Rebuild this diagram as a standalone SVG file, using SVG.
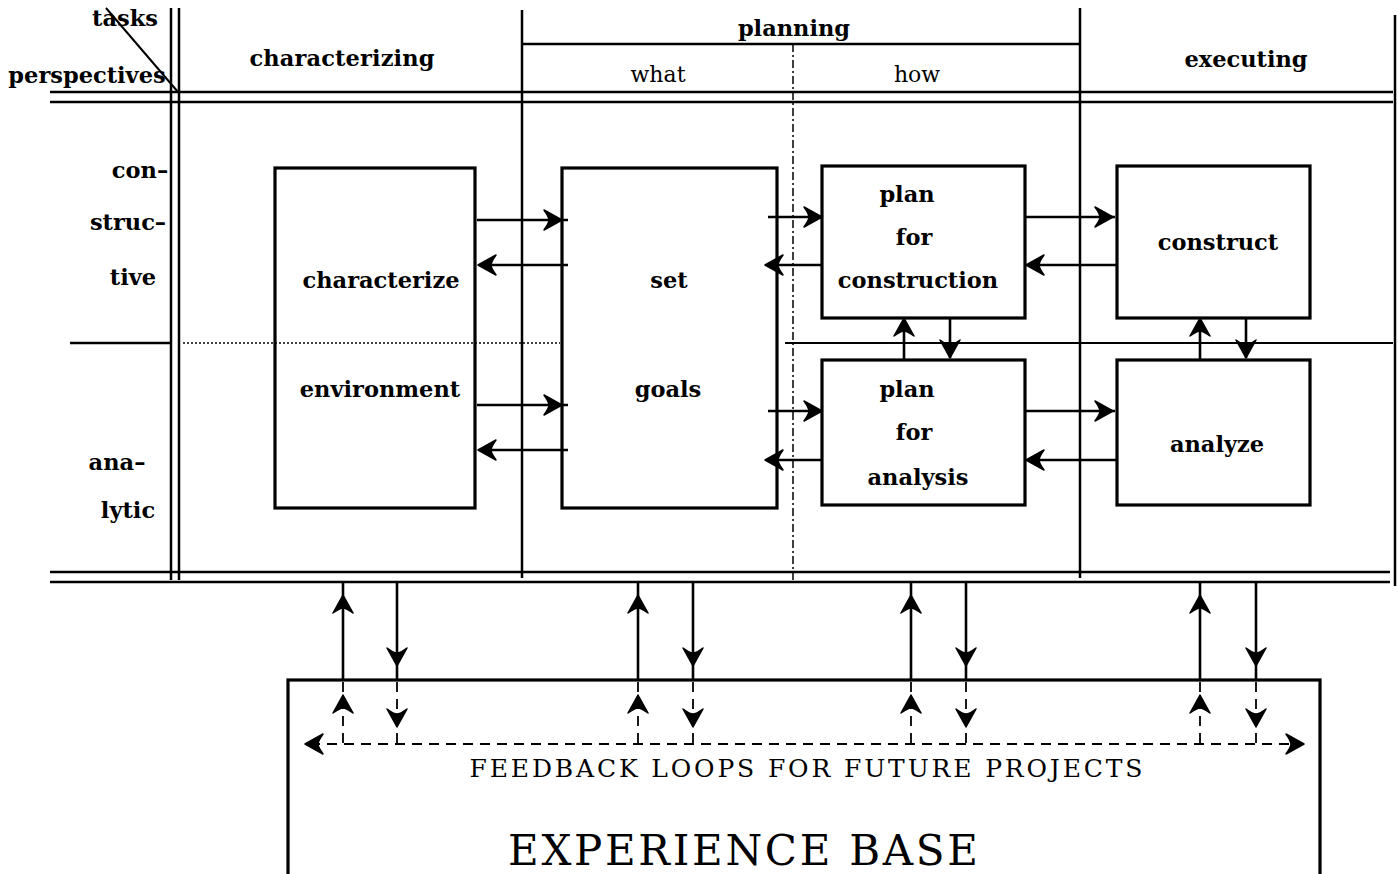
<svg xmlns="http://www.w3.org/2000/svg" width="1398" height="874" viewBox="0 0 1398 874">
<style>
.g{stroke:#000;stroke-width:2.5;fill:none}
.box{stroke:#000;stroke-width:3.2;fill:none}
.ar{stroke:#000;stroke-width:2.6;fill:none}
.dsh{stroke:#000;stroke-width:1.8;fill:none;stroke-dasharray:10,7}
.t{font-family:"DejaVu Serif","Liberation Serif",serif;font-weight:bold;font-size:22.5px;fill:#000;text-anchor:middle}
.n{font-family:"DejaVu Serif","Liberation Serif",serif;font-size:22px;fill:#000;text-anchor:middle}
.hd{fill:#000;stroke:#000;stroke-width:1.5;stroke-linejoin:round}
</style>
<defs>
<path id="hR" class="hd" d="M0,0 L-18,-10 Q-13,-3 -13,0 Q-13,3 -18,10 Z"/>
</defs>
<rect width="1398" height="874" fill="#fff"/>
<g id="grid">
<line class="g" x1="106" y1="8" x2="178" y2="92" style="stroke-width:2"/>
<line class="g" x1="171" y1="8" x2="171" y2="580"/>
<line class="g" x1="179" y1="8" x2="179" y2="580"/>
<line class="g" x1="522" y1="10" x2="522" y2="578"/>
<line class="g" x1="1080" y1="8" x2="1080" y2="578"/>
<line class="g" x1="1395" y1="15" x2="1395" y2="586"/>
<line class="g" x1="522" y1="44" x2="1080" y2="44"/>
<line class="g" x1="793" y1="44" x2="793" y2="580" style="stroke-width:1.5;stroke-dasharray:8,3,2,3"/>
<line class="g" x1="50" y1="92" x2="1393" y2="92"/>
<line class="g" x1="50" y1="102" x2="1393" y2="102"/>
<line class="g" x1="50" y1="572" x2="1390" y2="572"/>
<line class="g" x1="50" y1="582" x2="1390" y2="582"/>
<line class="g" x1="70" y1="343" x2="170" y2="343"/>
<line class="g" x1="183" y1="343" x2="560" y2="343" style="stroke-width:1.5;stroke-dasharray:2,2"/>
<line class="g" x1="785" y1="343" x2="1393" y2="343" style="stroke-width:2"/>
</g>
<g id="headers">
<text class="t" x="125" y="26">tasks</text>
<text class="t" x="87" y="83">perspectives</text>
<text class="t" x="342" y="66" textLength="185">characterizing</text>
<text class="t" x="794" y="36">planning</text>
<text class="n" x="658" y="82">what</text>
<text class="n" x="917" y="82">how</text>
<text class="t" x="1246" y="67">executing</text>
<text class="t" x="140" y="178">con–</text>
<text class="t" x="128" y="230">struc–</text>
<text class="t" x="133" y="285">tive</text>
<text class="t" x="117" y="470">ana–</text>
<text class="t" x="128" y="518">lytic</text>
</g>
<g id="connectors">
<line class="ar" x1="477" y1="220" x2="568" y2="220"/><use href="#hR" x="562" y="220"/>
<line class="ar" x1="568" y1="265" x2="480" y2="265"/><use href="#hR" transform="translate(478,265) rotate(180)"/>
<line class="ar" x1="477" y1="405" x2="568" y2="405"/><use href="#hR" x="562" y="405"/>
<line class="ar" x1="568" y1="450" x2="480" y2="450"/><use href="#hR" transform="translate(478,450) rotate(180)"/>
<line class="ar" x1="768" y1="217" x2="822" y2="217"/><use href="#hR" x="822" y="217"/>
<line class="ar" x1="822" y1="265" x2="767" y2="265"/><use href="#hR" transform="translate(765,265) rotate(180)"/>
<line class="ar" x1="768" y1="411" x2="822" y2="411"/><use href="#hR" x="822" y="411"/>
<line class="ar" x1="822" y1="460" x2="767" y2="460"/><use href="#hR" transform="translate(765,460) rotate(180)"/>
<line class="ar" x1="1025" y1="217" x2="1115" y2="217"/><use href="#hR" x="1113" y="217"/>
<line class="ar" x1="1117" y1="265" x2="1028" y2="265"/><use href="#hR" transform="translate(1026,265) rotate(180)"/>
<line class="ar" x1="1025" y1="411" x2="1115" y2="411"/><use href="#hR" x="1113" y="411"/>
<line class="ar" x1="1117" y1="460" x2="1028" y2="460"/><use href="#hR" transform="translate(1026,460) rotate(180)"/>
<line class="ar" x1="904" y1="360" x2="904" y2="320"/><use href="#hR" transform="translate(904,318) rotate(-90)"/>
<line class="ar" x1="950" y1="318" x2="950" y2="358"/><use href="#hR" transform="translate(950,358) rotate(90)"/>
<line class="ar" x1="1200" y1="360" x2="1200" y2="320"/><use href="#hR" transform="translate(1200,318) rotate(-90)"/>
<line class="ar" x1="1246" y1="318" x2="1246" y2="358"/><use href="#hR" transform="translate(1246,358) rotate(90)"/>
<line class="ar" x1="343" y1="680" x2="343" y2="582"/><use href="#hR" transform="translate(343,595) rotate(-90)"/>
<line class="ar" x1="397" y1="582" x2="397" y2="680"/><use href="#hR" transform="translate(397,666) rotate(90)"/>
<line class="ar" x1="638" y1="680" x2="638" y2="582"/><use href="#hR" transform="translate(638,595) rotate(-90)"/>
<line class="ar" x1="693" y1="582" x2="693" y2="680"/><use href="#hR" transform="translate(693,666) rotate(90)"/>
<line class="ar" x1="911" y1="680" x2="911" y2="582"/><use href="#hR" transform="translate(911,595) rotate(-90)"/>
<line class="ar" x1="966" y1="582" x2="966" y2="680"/><use href="#hR" transform="translate(966,666) rotate(90)"/>
<line class="ar" x1="1200" y1="680" x2="1200" y2="582"/><use href="#hR" transform="translate(1200,595) rotate(-90)"/>
<line class="ar" x1="1256" y1="582" x2="1256" y2="680"/><use href="#hR" transform="translate(1256,666) rotate(90)"/>
</g>
<g id="n-characterize">
<rect class="box" x="275" y="168" width="200" height="340"/>
<text class="t" x="381" y="288">characterize</text>
<text class="t" x="380" y="397">environment</text>
</g>
<g id="n-set-goals">
<rect class="box" x="562" y="168" width="215" height="340"/>
<text class="t" x="669" y="288">set</text>
<text class="t" x="668" y="397">goals</text>
</g>
<g id="n-plan-construction">
<rect class="box" x="822" y="166" width="203" height="152"/>
<text class="t" x="907" y="202">plan</text>
<text class="t" x="914" y="245">for</text>
<text class="t" x="918" y="288">construction</text>
</g>
<g id="n-plan-analysis">
<rect class="box" x="822" y="360" width="203" height="145"/>
<text class="t" x="907" y="397">plan</text>
<text class="t" x="914" y="440">for</text>
<text class="t" x="918" y="485">analysis</text>
</g>
<g id="n-construct">
<rect class="box" x="1117" y="166" width="193" height="152"/>
<text class="t" x="1218" y="250">construct</text>
</g>
<g id="n-analyze">
<rect class="box" x="1117" y="360" width="193" height="145"/>
<text class="t" x="1217" y="452">analyze</text>
</g>
<g id="n-experience-base">
<rect class="box" x="288" y="680" width="1032" height="200"/>
<g id="feedback">
<line class="dsh" x1="310" y1="744" x2="1298" y2="744"/>
<use href="#hR" transform="translate(305,744) rotate(180)"/>
<use href="#hR" x="1304" y="744"/>
<line class="dsh" x1="343" y1="682" x2="343" y2="744"/><use href="#hR" transform="translate(343,695) rotate(-90)"/>
<line class="dsh" x1="397" y1="682" x2="397" y2="744"/><use href="#hR" transform="translate(397,727) rotate(90)"/>
<line class="dsh" x1="638" y1="682" x2="638" y2="744"/><use href="#hR" transform="translate(638,695) rotate(-90)"/>
<line class="dsh" x1="693" y1="682" x2="693" y2="744"/><use href="#hR" transform="translate(693,727) rotate(90)"/>
<line class="dsh" x1="911" y1="682" x2="911" y2="744"/><use href="#hR" transform="translate(911,695) rotate(-90)"/>
<line class="dsh" x1="966" y1="682" x2="966" y2="744"/><use href="#hR" transform="translate(966,727) rotate(90)"/>
<line class="dsh" x1="1200" y1="682" x2="1200" y2="744"/><use href="#hR" transform="translate(1200,695) rotate(-90)"/>
<line class="dsh" x1="1256" y1="682" x2="1256" y2="744"/><use href="#hR" transform="translate(1256,727) rotate(90)"/>
</g>
<text class="n" x="806" y="777" style="font-size:25px" textLength="673">FEEDBACK LOOPS FOR FUTURE PROJECTS</text>
<text class="n" x="743" y="865" style="font-size:42px" textLength="470">EXPERIENCE BASE</text>
</g>
</svg>
